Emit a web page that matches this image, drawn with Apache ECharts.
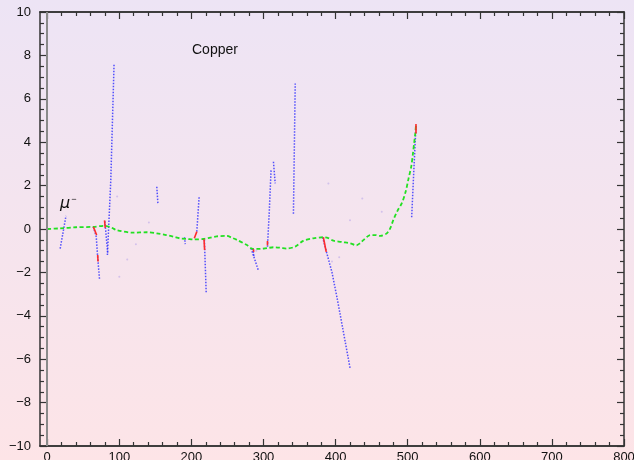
<!DOCTYPE html>
<html>
<head>
<meta charset="utf-8">
<script src="https://cdn.jsdelivr.net/npm/echarts@6/dist/echarts.min.js"></script>
<style>html,body{margin:0;padding:0;}#c{width:634px;height:460px;}</style>
</head>
<body>
<div id="c"></div>
<script>
// ---- data ----
const xMajorTicks = [0, 100, 200, 300, 400, 500, 600, 700, 800];
const xMinorTicks = [20, 40, 60, 80, 120, 140, 160, 180, 220, 240, 260, 280, 320, 340, 360, 380,
  420, 440, 460, 480, 520, 540, 560, 580, 620, 640, 660, 680, 720, 740, 760, 780];

// primary muon track (green dashed)
const muonTrack = [
  [0, 0], [18, 0.03], [40, 0.08], [64, 0.1], [80, 0.15], [90, 0.05], [96, -0.05], [119, -0.17],
  [138, -0.15], [152, -0.2], [165, -0.28], [175, -0.35], [184, -0.43], [195, -0.46], [203, -0.48],
  [217, -0.46], [226, -0.4], [235, -0.34], [249, -0.32], [256, -0.4], [263, -0.5], [277, -0.74],
  [284, -0.9], [295, -0.92], [305, -0.88], [314, -0.84], [323, -0.86], [332, -0.9], [344, -0.81],
  [355, -0.55], [369, -0.43], [383, -0.38], [390, -0.42], [397, -0.54], [411, -0.61], [420, -0.66],
  [429, -0.75], [434, -0.65], [439, -0.5], [448, -0.28], [455, -0.28], [462, -0.32], [471, -0.2],
  [476, 0.05], [480, 0.41], [486, 0.85], [492, 1.2], [497, 1.7], [501, 2.3], [505, 2.9],
  [507, 3.4], [509, 3.98], [510.5, 4.4], [511.5, 4.79]
];

// secondary tracks (blue dotted)
const delta1 = [[18, -0.9], [26, 0.6]];
const delta2 = [[64, 0.1], [68, -0.35], [70, -1.3], [72.5, -2.3]];
const delta3 = [[80, 0.35], [82, -0.4], [84, -1.15]];
const delta4 = [[83.5, -1.2], [88.2, 2.26], [92.7, 7.6]];
const delta5 = [[152, 1.95], [153.5, 1.18]];
const delta6 = [[190.5, -0.38], [191.5, -0.7]];
const delta7 = [[207.5, -0.12], [210.8, 1.52]];
const delta8 = [[218, -0.5], [220.5, -2.93]];
const delta9 = [[282.7, -0.89], [293, -1.92]];
const delta10 = [[285, -0.9], [287, -1.3]];
const delta11 = [[305.5, -0.82], [308, 0.8], [310.5, 2.75]];
const delta12 = [[313.8, 3.1], [316.2, 2.1]];
const delta13 = [[341.5, 0.7], [344, 6.7]];
const delta14 = [[382, -0.38], [387.6, -1.09], [395, -2.0], [402.4, -3.24], [410, -4.6], [420, -6.4]];
const delta15 = [[505.5, 0.54], [508.5, 2.7], [511.5, 4.79]];
const blueTracks = [delta1, delta2, delta3, delta4, delta5, delta6, delta7, delta8, delta9,
  delta10, delta11, delta12, delta13, delta14, delta15];

// energy deposits (red)
const deposit1 = [[64, 0.1], [68.6, -0.28]];
const deposit2 = [[70, -1.2], [70.5, -1.5]];
const deposit3 = [[79.5, 0.4], [80.5, 0.05]];
const deposit4 = [[204, -0.43], [207.5, -0.12]];
const deposit5 = [[217.5, -0.47], [218.3, -0.97]];
const deposit6 = [[383, -0.38], [387, -1.05]];
const deposit7 = [[511.5, 4.84], [511.5, 4.4]];
const deposit8 = [[305.5, -0.55], [305.5, -0.75]];
const deposit9 = [[286, -0.93], [286.5, -1.05]];
const redTracks = [deposit1, deposit2, deposit3, deposit4, deposit5, deposit6, deposit7, deposit8, deposit9];

// faint isolated hits
const faintHits = [[97, 1.5], [141, 0.3], [123, -0.7], [111, -1.4], [100, -2.2], [300, -0.9],
  [390, 2.1], [437, 1.4], [464, 0.8], [420, 0.4], [405, -1.3], [395, -1.5], [290, -1.0]];

const title = 'Copper';
const particleLabel = 'μ';

// ---- chart ----
const chart = echarts.init(document.getElementById('c'), null, {renderer: 'canvas'});
const FONT = 'Liberation Sans';
const axisColor = '#333';

function xAx(position, ticks, len, showLabel) {
  return {
    type: 'value', min: -10, max: 800, position: position,
    axisLine: {show: true, onZero: false, lineStyle: {color: axisColor, width: 1.5}},
    axisTick: {show: true, inside: true, length: len, customValues: ticks, lineStyle: {color: axisColor, width: 1.2}},
    axisLabel: {show: showLabel, customValues: ticks, fontSize: 13, margin: 5, color: '#111', fontFamily: FONT},
    splitLine: {show: false}
  };
}
function yAx(position, showLabel) {
  return {
    type: 'value', min: -10, max: 10, interval: 2, position: position,
    axisLine: {show: true, onZero: false, lineStyle: {color: axisColor, width: 1.5}},
    axisTick: {show: true, inside: true, length: 7, lineStyle: {color: axisColor, width: 1.2}},
    minorTick: {show: true, splitNumber: 4, length: 4, lineStyle: {color: axisColor, width: 1.2}},
    axisLabel: {show: showLabel, fontSize: 13, margin: 9, color: '#111', fontFamily: FONT,
      formatter: v => String(v).replace('-', '\u2212')},
    splitLine: {show: false}
  };
}

const series = [];
blueTracks.forEach((d, i) => series.push({
  type: 'line', data: d, showSymbol: false, silent: true, z: 2,
  lineStyle: {color: 'rgba(40,40,255,0.8)', width: 1.5, type: [1.5, 1.5]}
}));
series.push({
  type: 'line', data: muonTrack, showSymbol: false, silent: true, z: 3, smooth: 0.3,
  lineStyle: {color: '#22e022', width: 1.8, type: [4, 2.5]},
  markLine: {silent: true, symbol: 'none', label: {show: false},
    lineStyle: {color: '#8a8a8a', width: 2, type: 'solid'}, data: [{xAxis: 0}]}
});
redTracks.forEach(d => series.push({
  type: 'line', data: d, showSymbol: false, silent: true, z: 4,
  lineStyle: {color: '#ff2a2a', width: 1.6}
}));
series.push({
  type: 'scatter', data: faintHits, symbolSize: 2, silent: true, z: 1,
  itemStyle: {color: 'rgba(150,130,230,0.45)'}
});

chart.setOption({
  animation: false,
  backgroundColor: new echarts.graphic.LinearGradient(0, 0, 0, 1, [
    {offset: 0, color: '#ede4f5'}, {offset: 1, color: '#fde4e7'}
  ]),
  grid: {left: 40, right: 10, top: 12, bottom: 14, containLabel: false, outerBoundsMode: 'none'},
  xAxis: [
    xAx('bottom', xMajorTicks, 7, true),
    xAx('bottom', xMinorTicks, 4, false),
    xAx('top', xMajorTicks, 7, false),
    xAx('top', xMinorTicks, 4, false)
  ],
  yAxis: [yAx('left', true), yAx('right', false)],
  graphic: [
    {type: 'text', left: 192, top: 43, silent: true,
      style: {text: title, font: '14px "Liberation Sans"', fill: '#111'}},
    {type: 'text', left: 60, top: 195, silent: true,
      style: {text: '{m|' + particleLabel + '}{s|\u2212}', rich: {
        m: {font: 'italic 16px "DejaVu Sans"', fill: '#111'},
        s: {font: '9px "Liberation Sans"', fill: '#111', verticalAlign: 'top', padding: [0, 0, 8, 1]}
      }}}
  ],
  series: series
});
</script>
</body>
</html>
